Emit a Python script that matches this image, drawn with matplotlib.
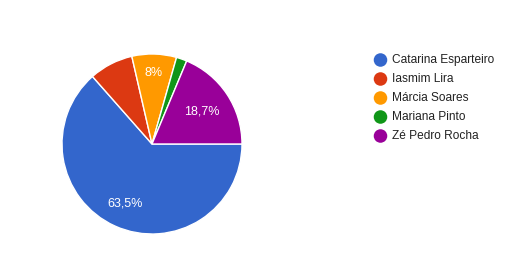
import matplotlib
matplotlib.use("Agg")
import matplotlib.pyplot as plt
import numpy as np

names = ["Catarina Esparteiro", "Iasmim Lira", "Márcia Soares", "Mariana Pinto", "Zé Pedro Rocha"]
values = [63.5, 7.9, 8.0, 1.9, 18.7]
labels = ["63,5%", "", "8%", "", "18,7%"]
colors = ["#3366cc", "#dc3912", "#ff9900", "#109618", "#990099"]
label_dist = [0.72, 0.7, 0.79, 0.7, 0.66]

plt.rcParams['font.family'] = ['Liberation Sans', 'DejaVu Sans']

W, H = 523, 260
fig = plt.figure(figsize=(W / 100, H / 100), dpi=100)
fig.patch.set_facecolor("white")

cx, cy, r = 152, 144, 90
ax = fig.add_axes([(cx - r) / W, (H - cy - r) / H, 2 * r / W, 2 * r / H])
wedges, _ = ax.pie(values, colors=colors, startangle=0, counterclock=False,
                   radius=1.0, wedgeprops=dict(edgecolor="white", linewidth=1.0))
ax.set_xlim(-1, 1)
ax.set_ylim(-1, 1)
ax.set_aspect("equal")
ax.axis("off")

for w, lab, d in zip(wedges, labels, label_dist):
    if not lab:
        continue
    mid = np.deg2rad((w.theta1 + w.theta2) / 2)
    ax.text(d * np.cos(mid), d * np.sin(mid), lab, ha="center", va="center",
            color="white", fontsize=9.0, fontweight="medium")

# legend
lax = fig.add_axes([0, 0, 1, 1])
lax.set_xlim(0, W)
lax.set_ylim(H, 0)
lax.axis("off")
y0, dy = 60, 19
for i, (n, c) in enumerate(zip(names, colors)):
    y = y0 + i * dy
    lax.scatter([380.5], [y], s=95, color=c, edgecolors="none")
    lax.text(391.5, y, n, ha="left", va="center", fontsize=8.6, color="#222222")

fig.savefig("out.png", dpi=100)
